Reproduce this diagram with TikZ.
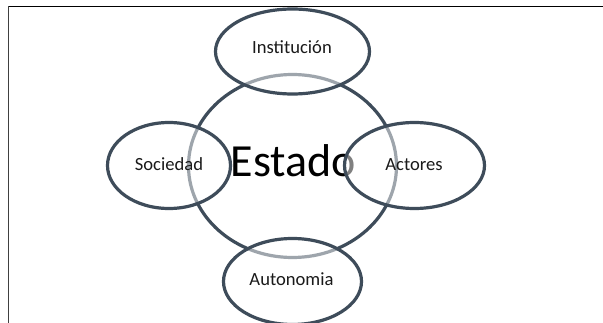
\documentclass[tikz,border=0pt]{standalone}
\usepackage{fontspec}
\setmainfont{Carlito}
\usetikzlibrary{shapes.geometric}
\definecolor{ringcol}{HTML}{3E4C5A}
\definecolor{txtcol}{HTML}{1A1A1A}
\tikzset{
  ring/.style={ellipse, draw=ringcol, line width=3.2pt, inner sep=0pt, outer sep=0pt},
  smallring/.style={ring, fill=white, fill opacity=0.5, draw opacity=1},
  lbl/.style={anchor=base, inner sep=0pt, text=txtcol, font=\fontsize{18.6}{21}\selectfont},
}
\begin{document}
\begin{tikzpicture}[x=1pt,y=-1pt]
\useasboundingbox (0,0) rectangle (603,323);
\fill[white] (0,0) rectangle (603,323);
% frame
\coordinate (fTL) at (8.5,6.5);
\coordinate (fTR) at (603,6.5);
\coordinate (fBL) at (8.5,323);
\draw[line width=1.6pt, black] (fTL) -- (fTR);
\draw[line width=1.5pt, black!75] (fTL) -- (fBL);
% central circle
\node[ring, minimum width=208pt, minimum height=183pt] (estado) at (292.5,166) {};
\node[anchor=base, inner sep=0pt, font=\fontsize{46}{50}\selectfont] (estadotxt) at (293.5,177) {Estado};
% satellite ellipses
\node[smallring, minimum width=154pt, minimum height=85pt] (inst) at (292.5,51.5) {};
\node[smallring, minimum width=123pt, minimum height=86pt] (soc) at (169,165.5) {};
\node[smallring, minimum width=140pt, minimum height=86pt] (act) at (414.5,165.5) {};
\node[smallring, minimum width=138pt, minimum height=86pt] (auto) at (292.5,281.5) {};
% labels
\node[lbl] (insttxt) at (292,54) {Institución};
\node[lbl] (soctxt) at (169,171) {Sociedad};
\node[lbl] (acttxt) at (414,171) {Actores};
\node[lbl] (autotxt) at (291.5,286) {Autonomia};
\end{tikzpicture}
\end{document}
